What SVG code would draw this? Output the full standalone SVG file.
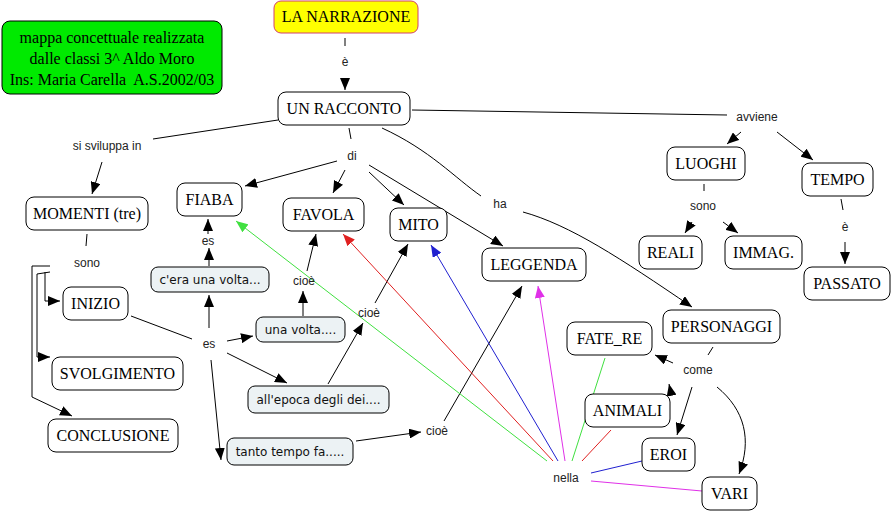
<svg xmlns="http://www.w3.org/2000/svg" width="893" height="513" viewBox="0 0 893 513">
<defs>
<marker id="ab" viewBox="0 0 12 10" refX="12" refY="5" markerWidth="12" markerHeight="10" markerUnits="userSpaceOnUse" orient="auto"><path d="M0,0 L12,5 L0,10 z" fill="#000"/></marker>
<marker id="ag" viewBox="0 0 12 10" refX="12" refY="5" markerWidth="12" markerHeight="10" markerUnits="userSpaceOnUse" orient="auto"><path d="M0,0 L12,5 L0,10 z" fill="#40e040"/></marker>
<marker id="ar" viewBox="0 0 12 10" refX="12" refY="5" markerWidth="12" markerHeight="10" markerUnits="userSpaceOnUse" orient="auto"><path d="M0,0 L12,5 L0,10 z" fill="#e02020"/></marker>
<marker id="abl" viewBox="0 0 12 10" refX="12" refY="5" markerWidth="12" markerHeight="10" markerUnits="userSpaceOnUse" orient="auto"><path d="M0,0 L12,5 L0,10 z" fill="#2020d0"/></marker>
<marker id="am" viewBox="0 0 12 10" refX="12" refY="5" markerWidth="12" markerHeight="10" markerUnits="userSpaceOnUse" orient="auto"><path d="M0,0 L12,5 L0,10 z" fill="#e030e8"/></marker>
</defs>
<style>
.box{fill:#fff;stroke:#000;stroke-width:1}
.lbox{fill:#ecf2f4;stroke:#000;stroke-width:1}
.t16{font-family:"Liberation Serif","Times New Roman",serif;font-size:16px;text-anchor:middle;fill:#000}
.t12{font-family:"DejaVu Sans",Verdana,sans-serif;font-size:12px;text-anchor:middle;fill:#111}
.lab{font-family:"Liberation Sans",Arial,sans-serif;font-size:12px;text-anchor:middle;fill:#222}
.c{fill:none;stroke:#000;stroke-width:1}
.a{marker-end:url(#ab)}
.g{fill:none;stroke:#40e040;stroke-width:1}
.r{fill:none;stroke:#e02020;stroke-width:1}
.b{fill:none;stroke:#2020d0;stroke-width:1}
.m{fill:none;stroke:#e030e8;stroke-width:1}
</style>
<rect width="893" height="513" fill="#fff"/>
<g id="connectors">
<path class="c" d="M345,38 L345,46"/>
<path class="c a" d="M345,78 L345,90"/>
<path class="c" d="M278,120 L153,139"/>
<path class="c a" d="M102,162 L92,194"/>
<path class="c" d="M87,234 L86,246"/>
<path class="c a" d="M50,266 L32,266 L32,397 L72,416"/>
<path class="c a" d="M50,272 L37,274 L37,357 L50,357"/>
<path class="c a" d="M45,272 L45,301 L60,301"/>
<path class="c" d="M349,128 L351,139"/>
<path class="c a" d="M337,161 L245,186"/>
<path class="c a" d="M345,170 L333,193"/>
<path class="c a" d="M369,172 L404,205"/>
<path class="c a" d="M369,165 L503,246"/>
<path class="c" d="M382,128 C430,150 455,178 481,196"/>
<path class="c a" d="M523,212 C570,225 620,258 692,307"/>
<path class="c" d="M412,110 L727,115"/>
<path class="c a" d="M741,132 L727,144"/>
<path class="c a" d="M777,132 L813,160"/>
<path class="c" d="M704,184 L704,191"/>
<path class="c a" d="M692,222 L685,233"/>
<path class="c a" d="M723,222 L738,233"/>
<path class="c" d="M841,199 L843,210"/>
<path class="c a" d="M845,242 L845,264"/>
<path class="c a" d="M208,234 L208,219"/>
<path class="c a" d="M209,266 L209,248"/>
<path class="c" d="M131,316 L192,339"/>
<path class="c a" d="M209,328 L209,295"/>
<path class="c a" d="M227,341 L253,336"/>
<path class="c a" d="M227,353 L287,383"/>
<path class="c a" d="M211,360 L221,460"/>
<path class="c a" d="M303,316 L303,291"/>
<path class="c a" d="M307,271 L316,234"/>
<path class="c a" d="M328,384 L363,323"/>
<path class="c a" d="M375,303 L408,244"/>
<path class="c a" d="M356,441 L421,432"/>
<path class="c a" d="M444,421 L522,286"/>
<path class="c" d="M713,347 L708,355"/>
<path class="c a" d="M673,363 L655,355"/>
<path class="c a" d="M671,393 L669,384"/>
<path class="c a" d="M692,387 L677,435"/>
<path class="c a" d="M717,387 C745,410 752,440 739,474"/>
<path class="g" marker-end="url(#ag)" d="M547,461 L236,221"/>
<path class="r" marker-end="url(#ar)" d="M553,461 L343,234"/>
<path class="b" marker-end="url(#abl)" d="M558,461 L431,245"/>
<path class="m" marker-end="url(#am)" d="M565,461 L538,286"/>
<path class="g" d="M572,461 L605,358"/>
<path class="r" d="M582,461 L611,430"/>
<path class="b" d="M591,473 L642,461"/>
<path class="m" d="M591,481 L702,491"/>
<text class="lab" x="345" y="66">è</text>
<text class="lab" x="107" y="150">si sviluppa in</text>
<text class="lab" x="352" y="160">di</text>
<text class="lab" x="500" y="208">ha</text>
<text class="lab" x="757" y="121">avviene</text>
<text class="lab" x="703" y="210">sono</text>
<text class="lab" x="845" y="231">è</text>
<text class="lab" x="87" y="267">sono</text>
<text class="lab" x="208" y="245">es</text>
<text class="lab" x="304" y="285">cioè</text>
<text class="lab" x="369" y="317">cioè</text>
<text class="lab" x="209" y="348">es</text>
<text class="lab" x="437" y="435">cioè</text>
<text class="lab" x="698" y="374">come</text>
<text class="lab" x="566" y="482">nella</text>
</g>
<g id="n-info"><rect x="2" y="21" width="220" height="73" rx="8" fill="#00ea00" stroke="#000"/>
<text class="t16" x="112" y="43" fill="#0a3a0a">mappa concettuale realizzata</text>
<text class="t16" x="112" y="64" fill="#0a3a0a">dalle classi 3^ Aldo Moro</text>
<text class="t16" x="112" y="85" fill="#0a3a0a" xml:space="preserve">Ins: Maria Carella  A.S.2002/03</text></g>
<g id="n-narrazione"><rect x="274" y="1" width="144" height="32" rx="7" fill="#ffff00" stroke="#d04070"/><text class="t16" x="346" y="22" fill="#1a1a5e">LA NARRAZIONE</text></g>
<g id="n-racconto"><rect class="box" x="278" y="92" width="132" height="33" rx="8"/><text class="t16" x="344" y="114">UN RACCONTO</text></g>
<g id="n-fiaba"><rect class="box" x="177" y="183" width="65" height="33" rx="8"/><text class="t16" x="209.5" y="205">FIABA</text></g>
<g id="n-favola"><rect class="box" x="283" y="198" width="81" height="33" rx="8"/><text class="t16" x="323.5" y="220">FAVOLA</text></g>
<g id="n-mito"><rect class="box" x="390" y="208" width="57" height="33" rx="8"/><text class="t16" x="418.5" y="230">MITO</text></g>
<g id="n-leggenda"><rect class="box" x="482" y="248" width="104" height="33" rx="8"/><text class="t16" x="534" y="270">LEGGENDA</text></g>
<g id="n-momenti"><rect class="box" x="26" y="197" width="122" height="33" rx="8"/><text class="t16" x="87" y="219">MOMENTI (tre)</text></g>
<g id="n-inizio"><rect class="box" x="63" y="287" width="65" height="33" rx="8"/><text class="t16" x="95.5" y="309">INIZIO</text></g>
<g id="n-svolgimento"><rect class="box" x="52" y="357" width="131" height="33" rx="8"/><text class="t16" x="117.5" y="379">SVOLGIMENTO</text></g>
<g id="n-conclusione"><rect class="box" x="48" y="419" width="130" height="33" rx="8"/><text class="t16" x="113" y="441">CONCLUSIONE</text></g>
<g id="n-luoghi"><rect class="box" x="667" y="147" width="78" height="33" rx="8"/><text class="t16" x="706" y="169">LUOGHI</text></g>
<g id="n-tempo"><rect class="box" x="802" y="163" width="71" height="33" rx="8"/><text class="t16" x="837.5" y="185">TEMPO</text></g>
<g id="n-reali"><rect class="box" x="639" y="236" width="63" height="33" rx="8"/><text class="t16" x="670.5" y="258">REALI</text></g>
<g id="n-immag"><rect class="box" x="725" y="236" width="77" height="33" rx="8"/><text class="t16" x="763.5" y="258">IMMAG.</text></g>
<g id="n-passato"><rect class="box" x="804" y="267" width="86" height="33" rx="8"/><text class="t16" x="847" y="289">PASSATO</text></g>
<g id="n-personaggi"><rect class="box" x="663" y="310" width="117" height="33" rx="8"/><text class="t16" x="721.5" y="332">PERSONAGGI</text></g>
<g id="n-fatere"><rect class="box" x="567" y="322" width="85" height="33" rx="8"/><text class="t16" x="609.5" y="344">FATE_RE</text></g>
<g id="n-animali"><rect class="box" x="585" y="394" width="85" height="33" rx="8"/><text class="t16" x="627.5" y="416">ANIMALI</text></g>
<g id="n-eroi"><rect class="box" x="642" y="438" width="53" height="33" rx="8"/><text class="t16" x="668.5" y="460">EROI</text></g>
<g id="n-vari"><rect class="box" x="702" y="477" width="55" height="33" rx="8"/><text class="t16" x="729.5" y="499">VARI</text></g>
<g id="n-cera"><rect class="lbox" x="151" y="267" width="118" height="25" rx="7"/><text class="t12" x="210" y="284">c'era una volta...</text></g>
<g id="n-unavolta"><rect class="lbox" x="256" y="317" width="89" height="25" rx="7"/><text class="t12" x="300.5" y="334">una volta....</text></g>
<g id="n-epoca"><rect class="lbox" x="248" y="386" width="141" height="27" rx="7"/><text class="t12" x="318.5" y="404">all'epoca degli dei....</text></g>
<g id="n-tanto"><rect class="lbox" x="227" y="438" width="126" height="27" rx="7"/><text class="t12" x="290" y="456">tanto tempo fa.....</text></g>
</svg>
